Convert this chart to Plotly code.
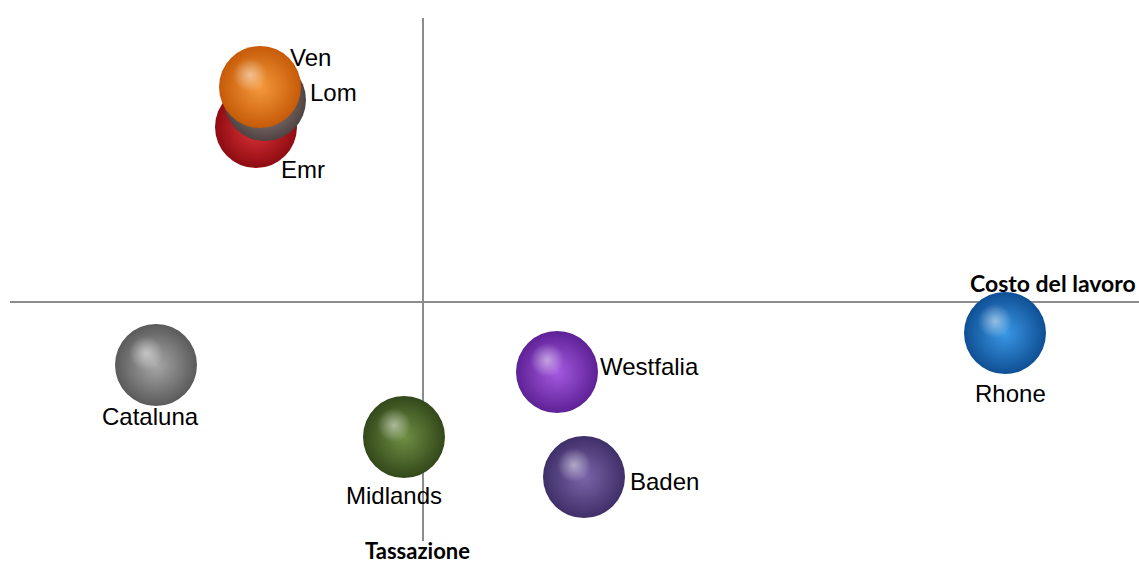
import plotly.graph_objects as go

# regioni e posizione (costo del lavoro, tassazione)
regioni = ["Emr", "Lom", "Ven", "Cataluna", "Midlands", "Westfalia", "Baden", "Rhone"]
costo_lavoro = [-1.67, -1.58, -1.63, -2.67, -0.19, 1.34, 1.61, 5.82]
tassazione = [1.75, 2.02, 2.15, -0.63, -1.35, -0.70, -1.75, -0.31]

# colori sfera: bordo scuro, centro chiaro
col_bordo = ["#8e0c12", "#4f4242", "#c65a08", "#5a5a5a", "#33481a", "#5e2196", "#3f2f68", "#0f4f94"]
col_centro = ["#e0343a", "#a89690", "#f59a3c", "#a8a8a8", "#6f8f44", "#a55ae0", "#7a66aa", "#3a98e6"]

# spostamento etichette in pixel (dx, dy verso l'alto)
spost = {
    "Ven": (50, 30), "Lom": (68, 8), "Emr": (47, -42), "Cataluna": (-6, -51),
    "Midlands": (-10, -58), "Westfalia": (92, 6), "Baden": (80, -4), "Rhone": (5, -60),
}
nascoste = ["Emr", "Lom"]  # coperte da Ven, niente riflesso

x_range = [-4.13, 7.16]
y_range = [-2.39, 2.84]
# riflesso spostato in alto a sinistra (1 unita = 100 px)
dx_h, dy_h = 0.10, 0.12

fig = go.Figure()

for i, nome in enumerate(regioni):
    fig.add_trace(go.Scatter(
        x=[costo_lavoro[i]], y=[tassazione[i]],
        mode="markers",
        marker=dict(size=82, color=col_bordo[i], line=dict(width=0),
                    gradient=dict(type="radial", color=col_centro[i])),
        hoverinfo="skip", showlegend=False,
    ))

vis = [i for i, n in enumerate(regioni) if n not in nascoste]
fig.add_trace(go.Scatter(
    x=[costo_lavoro[i] for i in vis], y=[tassazione[i] for i in vis],
    xaxis="x2", yaxis="y2",
    mode="markers",
    marker=dict(size=34, color="rgba(255,255,255,0)", line=dict(width=0),
                gradient=dict(type="radial", color="rgba(255,255,255,0.5)")),
    hoverinfo="skip", showlegend=False,
))

for i, nome in enumerate(regioni):
    sx, sy = spost[nome]
    fig.add_annotation(
        x=costo_lavoro[i], y=tassazione[i], text=nome, showarrow=False,
        xshift=sx, yshift=sy, xanchor="center", yanchor="middle",
        font=dict(family="Liberation Sans, Arial", size=24, color="#000000"),
    )

fig.add_annotation(
    x=1, xref="paper", y=0, yref="y", text="<b>Costo del lavoro</b>", showarrow=False,
    xanchor="right", yanchor="bottom", xshift=-1, yshift=3,
    font=dict(family="Lato, Open Sans", size=23, color="#000000"),
)
fig.add_annotation(
    x=0, xref="x", y=0, yref="paper", text="<b>Tassazione</b>", showarrow=False,
    xanchor="center", yanchor="top", xshift=-6, yshift=6,
    font=dict(family="Lato, Open Sans", size=22, color="#000000"),
)

asse = dict(showgrid=False, showticklabels=False, ticks="", showline=False,
            zeroline=True, zerolinecolor="#8c8c8c", zerolinewidth=2, fixedrange=True)
nascosto = dict(showgrid=False, showticklabels=False, ticks="", showline=False,
                zeroline=False, fixedrange=True)

fig.update_layout(
    width=1139, height=561,
    margin=dict(l=10, r=0, t=18, b=20),
    paper_bgcolor="white", plot_bgcolor="white",
    xaxis=dict(range=x_range, **asse),
    yaxis=dict(range=y_range, **asse),
    xaxis2=dict(range=[x_range[0] + dx_h, x_range[1] + dx_h], overlaying="x", **nascosto),
    yaxis2=dict(range=[y_range[0] - dy_h, y_range[1] - dy_h], overlaying="y", **nascosto),
)

# niente margine della pagina, cosi la figura occupa esattamente la finestra
fig.write_html(
    "out.html",
    config={"displayModeBar": False},
    default_width="1139px", default_height="561px",
    post_script="document.body.style.margin='0';document.body.style.overflow='hidden';",
)
